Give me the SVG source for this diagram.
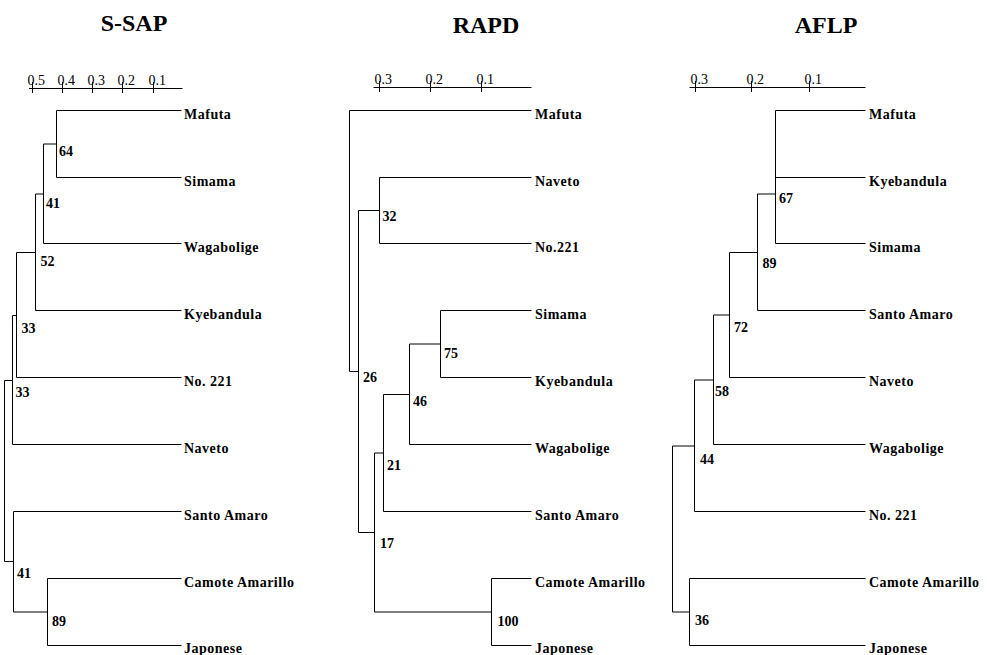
<svg xmlns="http://www.w3.org/2000/svg" width="987" height="655" viewBox="0 0 987 655">
<style>
text{font-family:"Liberation Serif","Times New Roman",serif;fill:#000}
.t{font-size:24px;font-weight:bold;text-anchor:middle}
.ax{font-size:14px}
.lf{font-size:14px;font-weight:bold;letter-spacing:0.5px}
.bs{font-size:14px;font-weight:bold}
.ln{stroke:#000;stroke-width:1;fill:none}
</style>
<rect width="987" height="655" fill="#fff"/>

<!-- S-SAP -->
<g id="ssap">
<text class="t" x="134" y="31">S-SAP</text>
<g id="ssap-axis">
<path class="ln" d="M29 88.5H182.5M32.5 82V93M62.5 82V93M92.5 82V93M122.5 82V93M153.5 82V93"/>
<text class="ax" x="27.5" y="85">0.5</text>
<text class="ax" x="57.5" y="85">0.4</text>
<text class="ax" x="87.5" y="85">0.3</text>
<text class="ax" x="117.5" y="85">0.2</text>
<text class="ax" x="148.5" y="85">0.1</text>
</g>
<g id="ssap-connectors">
<path class="ln" d="M56.5 110.5H181.5M56.5 177.5H181.5M56.5 110.5V177.5M43.5 144H56.5M43.5 144V243.5M43.5 243.5H181.5M35.5 194H43.5M35.5 194V310.5M35.5 310.5H181.5M16.5 252.5H35.5M16.5 252.5V377.5M16.5 377.5H181.5M12.5 315.5H16.5M12.5 315.5V444.5M12.5 444.5H181.5M4.5 380.5H12.5M4.5 380.5V561.5M4.5 561.5H13.5M13.5 511.5V612M13.5 511.5H181.5M13.5 612H47.5M47.5 578.5V645.5M47.5 578.5H181.5M47.5 645.5H181.5"/>
</g>
<g id="ssap-mafuta"><text class="lf" x="184" y="118.5">Mafuta</text></g>
<g id="ssap-simama"><text class="lf" x="184" y="185.5">Simama</text></g>
<g id="ssap-wagabolige"><text class="lf" x="184" y="251.5">Wagabolige</text></g>
<g id="ssap-kyebandula"><text class="lf" x="184" y="318.5">Kyebandula</text></g>
<g id="ssap-no221"><text class="lf" x="184" y="385.5">No. 221</text></g>
<g id="ssap-naveto"><text class="lf" x="184" y="452.5">Naveto</text></g>
<g id="ssap-santo"><text class="lf" x="184" y="519.5">Santo Amaro</text></g>
<g id="ssap-camote"><text class="lf" x="184" y="586.5">Camote Amarillo</text></g>
<g id="ssap-japonese"><text class="lf" x="184" y="653">Japonese</text></g>
<g id="ssap-boot">
<text class="bs" x="59" y="156">64</text>
<text class="bs" x="46" y="208">41</text>
<text class="bs" x="40.5" y="266">52</text>
<text class="bs" x="21.5" y="333">33</text>
<text class="bs" x="15.5" y="397">33</text>
<text class="bs" x="17" y="578">41</text>
<text class="bs" x="52" y="625.5">89</text>
</g>
</g>

<!-- RAPD -->
<g id="rapd">
<text class="t" x="486" y="32.5">RAPD</text>
<g id="rapd-axis">
<path class="ln" d="M373.5 87.5H531.5M379.5 81V92M430.5 81V92M481.5 81V92"/>
<text class="ax" x="374.5" y="84">0.3</text>
<text class="ax" x="425.5" y="84">0.2</text>
<text class="ax" x="476.5" y="84">0.1</text>
</g>
<g id="rapd-connectors">
<path class="ln" d="M349.5 110.5H531.5M349.5 110.5V371.5M349.5 371.5H358.5M379.5 177.5H531.5M379.5 243.5H531.5M379.5 177.5V243.5M358.5 210.5H379.5M358.5 210.5V532.5M358.5 532.5H374.5M440.5 310.5H531.5M440.5 377.5H531.5M440.5 310.5V377.5M409.5 344H440.5M409.5 344V444.5M409.5 444.5H531.5M383.5 394.5H409.5M383.5 394.5V511.5M383.5 511.5H531.5M374.5 453H383.5M374.5 453V612M374.5 612H491.5M491.5 578.5V645.5M491.5 578.5H531.5M491.5 645.5H531.5"/>
</g>
<g id="rapd-mafuta"><text class="lf" x="535" y="118.5">Mafuta</text></g>
<g id="rapd-naveto"><text class="lf" x="535" y="185.5">Naveto</text></g>
<g id="rapd-no221"><text class="lf" x="535" y="251.5">No.221</text></g>
<g id="rapd-simama"><text class="lf" x="535" y="318.5">Simama</text></g>
<g id="rapd-kyebandula"><text class="lf" x="535" y="385.5">Kyebandula</text></g>
<g id="rapd-wagabolige"><text class="lf" x="535" y="452.5">Wagabolige</text></g>
<g id="rapd-santo"><text class="lf" x="535" y="519.5">Santo Amaro</text></g>
<g id="rapd-camote"><text class="lf" x="535" y="586.5">Camote Amarillo</text></g>
<g id="rapd-japonese"><text class="lf" x="535" y="653">Japonese</text></g>
<g id="rapd-boot">
<text class="bs" x="382.5" y="221">32</text>
<text class="bs" x="363" y="382">26</text>
<text class="bs" x="444" y="357.5">75</text>
<text class="bs" x="413" y="406">46</text>
<text class="bs" x="387" y="470">21</text>
<text class="bs" x="380" y="548">17</text>
<text class="bs" x="497.5" y="626">100</text>
</g>
</g>

<!-- AFLP -->
<g id="aflp">
<text class="t" x="826" y="32.5">AFLP</text>
<g id="aflp-axis">
<path class="ln" d="M689.5 87.5H865.5M695.5 81V92M751.5 81V92M809.5 81V92"/>
<text class="ax" x="690.5" y="84">0.3</text>
<text class="ax" x="746.5" y="84">0.2</text>
<text class="ax" x="804.5" y="84">0.1</text>
</g>
<g id="aflp-connectors">
<path class="ln" d="M775.5 110.5H865.5M775.5 177.5H865.5M775.5 243.5H865.5M775.5 110.5V243.5M757.5 194H775.5M757.5 194V310.5M757.5 310.5H865.5M729.5 252.5H757.5M729.5 252.5V377.5M729.5 377.5H865.5M713.5 315H729.5M713.5 315V444.5M713.5 444.5H865.5M694.5 380H713.5M694.5 380V511.5M694.5 511.5H865.5M672.5 446H694.5M672.5 446V612M672.5 612H689.5M689.5 578.5V645.5M689.5 578.5H865.5M689.5 645.5H865.5"/>
</g>
<g id="aflp-mafuta"><text class="lf" x="869" y="118.5">Mafuta</text></g>
<g id="aflp-kyebandula"><text class="lf" x="869" y="185.5">Kyebandula</text></g>
<g id="aflp-simama"><text class="lf" x="869" y="251.5">Simama</text></g>
<g id="aflp-santo"><text class="lf" x="869" y="318.5">Santo Amaro</text></g>
<g id="aflp-naveto"><text class="lf" x="869" y="385.5">Naveto</text></g>
<g id="aflp-wagabolige"><text class="lf" x="869" y="452.5">Wagabolige</text></g>
<g id="aflp-no221"><text class="lf" x="869" y="519.5">No. 221</text></g>
<g id="aflp-camote"><text class="lf" x="869" y="586.5">Camote Amarillo</text></g>
<g id="aflp-japonese"><text class="lf" x="869" y="653">Japonese</text></g>
<g id="aflp-boot">
<text class="bs" x="779" y="203">67</text>
<text class="bs" x="762.5" y="268">89</text>
<text class="bs" x="734" y="332">72</text>
<text class="bs" x="715" y="396">58</text>
<text class="bs" x="700" y="464">44</text>
<text class="bs" x="695" y="625">36</text>
</g>
</g>
</svg>
